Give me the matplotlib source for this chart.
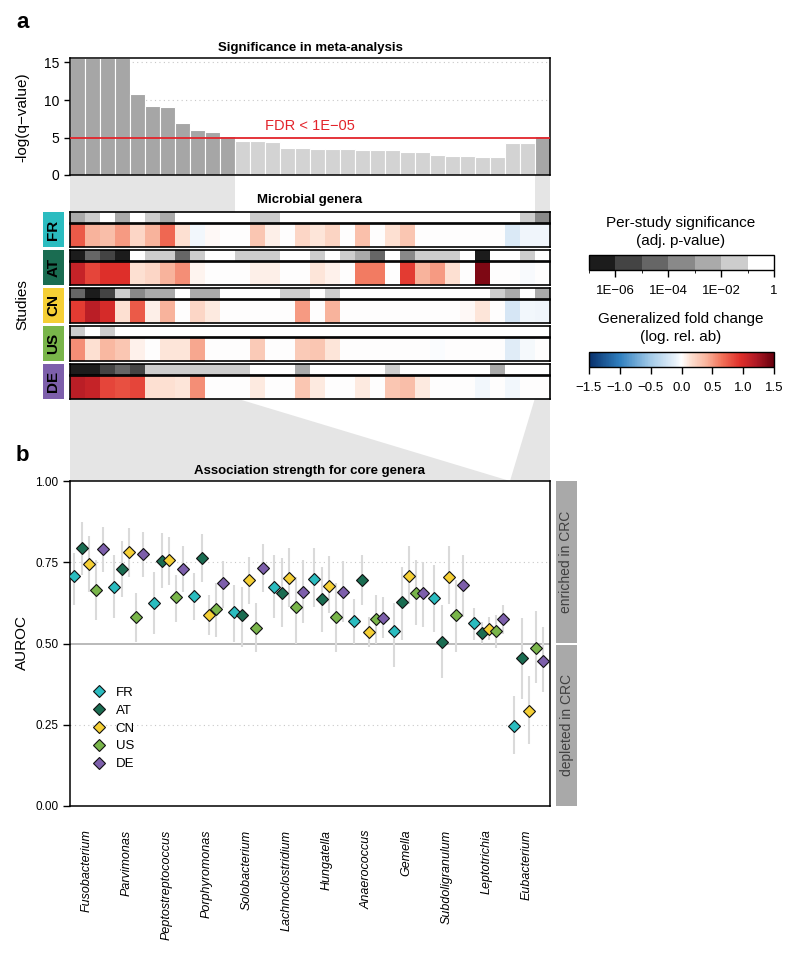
import matplotlib
matplotlib.use("Agg")
import matplotlib.pyplot as plt
import numpy as np
from matplotlib.colors import ListedColormap, BoundaryNorm, LinearSegmentedColormap, Normalize
from matplotlib.cm import ScalarMappable
from matplotlib.lines import Line2D
from matplotlib.patches import Polygon, Rectangle

plt.rcParams["font.family"] = ["Liberation Sans", "DejaVu Sans"]

W, H = 800, 957

# ---- data ----
# -log(q-value) of the meta-analysis, 32 genera
META_Q = [15.6, 15.6, 15.6, 15.6, 10.8, 9.15, 9.0, 7.0, 5.95, 5.7, 5.2,
          4.55, 4.55, 4.42, 3.55, 3.55, 3.52, 3.52, 3.52, 3.38, 3.38, 3.32,
          3.05, 3.05, 2.63, 2.5, 2.5, 2.37, 2.37, 4.28, 4.28, 5.25]
FDR_CUT = 5

STUDIES = ["FR", "AT", "CN", "US", "DE"]
STUDY_COLORS = ["#2bbcc0", "#1a6c51", "#f5cf35", "#79b54a", "#7d5fab"]

# per-study adj. p-value (log10)
SIG_FR = [-2.5, -1.5, -0.5, -2.5, -0.5, -1.5, -2.5, -0.5, -0.5, -0.5, -0.5, -0.5, -1.5, -1.5, -0.5, -0.5,
          -0.5, -0.5, -0.5, -0.5, -0.5, -0.5, -0.5, -0.5, -0.5, -0.5, -0.5, -0.5, -0.5, -0.5, -1.5, -3.5]
SIG_AT = [-6.5, -4.5, -5.5, -6.5, -0.5, -1.5, -1.5, -4.5, -1.5, -0.5, -0.5, -1.5, -1.5, -1.5, -0.5, -0.5,
          -1.5, -0.5, -1.5, -2.5, -4.5, -0.5, -3.5, -1.5, -1.5, -1.5, -0.5, -6.5, -0.5, -0.5, -1.5, -0.5]
SIG_CN = [-4.5, -6.5, -5.5, -1.5, -3.5, -2.5, -2.5, -0.5, -2.5, -2.5, -0.5, -0.5, -0.5, -0.5, -1.5, -1.5,
          -0.5, -1.5, -0.5, -0.5, -0.5, -0.5, -0.5, -0.5, -0.5, -0.5, -0.5, -0.5, -1.5, -2.5, -0.5, -2.5]
SIG_US = [-1.5, -0.5, -1.5, -0.5, -0.5, -0.5, -0.5, -0.5, -0.5, -0.5, -0.5, -0.5, -0.5, -0.5, -0.5, -0.5,
          -0.5, -0.5, -0.5, -0.5, -0.5, -0.5, -0.5, -0.5, -0.5, -0.5, -0.5, -0.5, -0.5, -0.5, -0.5, -0.5]
SIG_DE = [-6.5, -6.5, -5.5, -4.5, -5.5, -1.5, -1.5, -1.5, -1.5, -1.5, -1.5, -1.5, -0.5, -0.5, -0.5, -2.5,
          -0.5, -0.5, -0.5, -0.5, -0.5, -1.5, -0.5, -0.5, -0.5, -0.5, -0.5, -0.5, -2.5, -0.5, -0.5, -0.5]

# generalized fold change
FC_FR = [0.75, 0.4, 0.35, 0.5, 0.2, 0.4, 0.7, 0.15, -0.05, 0.03, 0, 0, 0.3, 0.08, 0, 0.2,
         0.12, 0.22, 0, 0.33, 0, 0.15, 0.3, 0, 0, 0, 0, 0, 0, -0.18, -0.07, -0.06]
FC_AT = [1.1, 0.85, 0.95, 0.95, 0.15, 0.2, 0.4, 0.55, 0.05, 0, 0, 0, 0.08, 0.08, 0, 0,
         0.12, 0.06, 0, 0.62, 0.62, 0, 0.9, 0.4, 0.5, 0.15, 0, 1.4, 0, 0, -0.03, 0]
FC_CN = [0.9, 1.15, 1.0, 0.15, 0.75, 0.08, 0.4, 0, 0.2, 0.1, 0, 0, 0, 0, 0, 0.5,
         0, 0.4, 0, 0, 0, 0, 0, 0, 0, 0, 0.03, 0.12, 0, -0.2, -0.05, -0.07]
FC_US = [0.55, 0.15, 0.38, 0.3, 0.06, 0, 0.12, 0.12, 0.45, 0, 0, 0, 0.27, 0, 0, 0.27,
         0.3, 0.12, 0, 0, 0, 0, 0, 0, -0.02, 0, 0, 0, 0, -0.15, -0.04, 0]
FC_DE = [1.15, 1.1, 0.85, 0.8, 0.85, 0.15, 0.15, 0.12, 0.55, 0, 0, 0, 0.1, 0, 0, 0.3,
         0.1, 0, 0, 0.1, 0, 0.3, 0.35, 0.1, 0, 0, 0, -0.05, 0, -0.05, 0, 0]

SIG = [SIG_FR, SIG_AT, SIG_CN, SIG_US, SIG_DE]
FC = [FC_FR, FC_AT, FC_CN, FC_US, FC_DE]

# core genera (columns of the heatmap kept in panel b)
CORE_IDX = [0, 1, 2, 3, 4, 5, 6, 7, 8, 9, 10, 31]
CORE_GENERA = ["Fusobacterium", "Parvimonas", "Peptostreptococcus", "Porphyromonas",
               "Solobacterium", "Lachnoclostridium", "Hungatella", "Anaerococcus",
               "Gemella", "Subdoligranulum", "Leptotrichia", "Eubacterium"]

AUROC_FR = [0.708, 0.674, 0.626, 0.645, 0.596, 0.675, 0.700, 0.568, 0.540, 0.640, 0.562, 0.245]
AUROC_AT = [0.793, 0.730, 0.755, 0.763, 0.588, 0.655, 0.636, 0.694, 0.629, 0.505, 0.533, 0.456]
AUROC_CN = [0.746, 0.783, 0.756, 0.589, 0.695, 0.703, 0.677, 0.535, 0.708, 0.706, 0.546, 0.293]
AUROC_US = [0.665, 0.582, 0.642, 0.605, 0.547, 0.612, 0.582, 0.574, 0.656, 0.587, 0.538, 0.486]
AUROC_DE = [0.790, 0.774, 0.730, 0.686, 0.732, 0.660, 0.657, 0.580, 0.656, 0.679, 0.574, 0.446]

CI_LO_FR = [0.62, 0.578, 0.53, 0.572, 0.505, 0.577, 0.613, 0.50, 0.428, 0.536, 0.51, 0.16]
CI_LO_AT = [0.711, 0.644, 0.67, 0.69, 0.49, 0.552, 0.536, 0.618, 0.51, 0.393, 0.50, 0.33]
CI_LO_CN = [0.66, 0.706, 0.68, 0.526, 0.623, 0.613, 0.593, 0.49, 0.623, 0.623, 0.51, 0.19]
CI_LO_US = [0.572, 0.505, 0.567, 0.521, 0.475, 0.50, 0.475, 0.50, 0.557, 0.475, 0.485, 0.38]
CI_LO_DE = [0.72, 0.704, 0.66, 0.608, 0.66, 0.562, 0.567, 0.517, 0.552, 0.582, 0.53, 0.35]

CI_HI_FR = [0.78, 0.772, 0.72, 0.717, 0.68, 0.772, 0.794, 0.636, 0.625, 0.742, 0.608, 0.34]
CI_HI_AT = [0.874, 0.816, 0.84, 0.837, 0.675, 0.762, 0.736, 0.772, 0.736, 0.618, 0.567, 0.58]
CI_HI_CN = [0.83, 0.855, 0.829, 0.65, 0.767, 0.793, 0.769, 0.582, 0.80, 0.80, 0.582, 0.40]
CI_HI_US = [0.757, 0.656, 0.71, 0.686, 0.625, 0.706, 0.685, 0.65, 0.757, 0.695, 0.588, 0.60]
CI_HI_DE = [0.858, 0.843, 0.80, 0.754, 0.806, 0.757, 0.755, 0.644, 0.752, 0.772, 0.618, 0.55]

AUROC = [AUROC_FR, AUROC_AT, AUROC_CN, AUROC_US, AUROC_DE]
CI_LO = [CI_LO_FR, CI_LO_AT, CI_LO_CN, CI_LO_US, CI_LO_DE]
CI_HI = [CI_HI_FR, CI_HI_AT, CI_HI_CN, CI_HI_US, CI_HI_DE]

SIG_COLORS = ["#1c1c1c", "#444444", "#666666", "#898989", "#aaaaaa", "#cdcdcd", "#ffffff"]
SIG_TICKS = [-6, -4, -2, 0]
SIG_TICKLABELS = ["1E\u221206", "1E\u221204", "1E\u221202", "1"]
FC_TICKS = [-1.5, -1.0, -0.5, 0.0, 0.5, 1.0, 1.5]


def box(x0, y0, x1, y1):
    """pixel box (top-left origin) -> figure fraction rect"""
    return [x0 / W, 1 - y1 / H, (x1 - x0) / W, (y1 - y0) / H]


fig = plt.figure(figsize=(W / 100, H / 100), dpi=100)

# background layer for connectors, labels and strips
bg = fig.add_axes([0, 0, 1, 1], zorder=-1)
bg.set_xlim(0, W)
bg.set_ylim(H, 0)
bg.axis("off")

X0, X1 = 70, 550
n_gen = len(META_Q)
col_w = (X1 - X0) / n_gen
n_core = len(CORE_IDX)
core_w = (X1 - X0) / n_core

# ---- a: meta-analysis bars ----
ax = fig.add_axes(box(X0, 58, X1, 175))
bar_cols = ["#a6a6a6" if q > FDR_CUT else "#d3d3d3" for q in META_Q]
ax.bar(np.arange(n_gen), META_Q, width=1.0, color=bar_cols, edgecolor="white", linewidth=0.8, zorder=2)
for yv in [10, 15]:
    ax.axhline(yv, color="#c8c8c8", lw=0.8, ls=(0, (1, 3)), zorder=1)
ax.axhline(FDR_CUT, color="#e3242b", lw=1.3, zorder=3)
ax.text(15.5, 6.55, "FDR < 1E\u221205", color="#e3242b", fontsize=10.5, ha="center", va="center")
ax.set_xlim(-0.5, n_gen - 0.5)
ax.set_ylim(0, 15.6)
ax.set_xticks([])
ax.set_yticks([0, 5, 10, 15])
ax.tick_params(axis="y", length=4, labelsize=10, width=1)
for sp in ax.spines.values():
    sp.set_linewidth(1.1)
ax.set_title("Significance in meta-analysis", fontsize=9.5, fontweight="bold", pad=5)
fig.text(22 / W, 1 - 117 / H, "-log(q\u2212value)", rotation=90, ha="center", va="center", fontsize=11)

# connectors (selected genera)
groups = [[0, 10], [31, 31]]
core_starts = [0, 11]
for (g0, g1), c0 in zip(groups, core_starts):
    xa = X0 + col_w * g0
    xb = X0 + col_w * (g1 + 1)
    bg.add_patch(Rectangle((xa, 175), xb - xa, 212 - 175, color="#e5e5e5", lw=0))
    xc = X0 + core_w * c0
    xd = X0 + core_w * (c0 + g1 - g0 + 1)
    bg.add_patch(Polygon([(xa, 398), (xb, 398), (xd, 481), (xc, 481)], closed=True, color="#e5e5e5", lw=0))

fig.text(310 / W, 1 - 200 / H, "Microbial genera", ha="center", va="center", fontsize=9.5, fontweight="bold")

# ---- a: per-study heatmap ----
sig_cmap = ListedColormap(SIG_COLORS)
sig_norm = BoundaryNorm(np.arange(-7, 1), sig_cmap.N)
fc_cmap = LinearSegmentedColormap.from_list(
    "fc",
    [(0.0, "#08306b"), (0.5 / 3, "#3080c0"), (1.0 / 3, "#a4cbe8"), (1.4 / 3, "#e8f1fa"),
     (0.5, "#ffffff"), (1.65 / 3, "#fde0d2"), (1.9 / 3, "#f9b59e"), (2.15 / 3, "#f2735a"),
     (2.45 / 3, "#e0302b"), (2.7 / 3, "#b31b26"), (1.0, "#67000d")])
fc_norm = Normalize(-1.5, 1.5)

for k, st in enumerate(STUDIES):
    top = 212 + 38 * k
    a_sig = fig.add_axes(box(X0, top, X1, top + 11))
    a_sig.imshow(np.array(SIG[k])[None, :], cmap=sig_cmap, norm=sig_norm, aspect="auto",
                 interpolation="nearest", extent=(-0.5, n_gen - 0.5, 0, 1))
    a_fc = fig.add_axes(box(X0, top + 12, X1, top + 35))
    a_fc.imshow(np.array(FC[k])[None, :], cmap=fc_cmap, norm=fc_norm, aspect="auto",
                interpolation="nearest", extent=(-0.5, n_gen - 0.5, 0, 1))
    for a in (a_sig, a_fc):
        a.set_xticks([])
        a.set_yticks([])
        for sp in a.spines.values():
            sp.set_linewidth(1.2)
    bg.add_patch(Rectangle((43, top), 21, 35, color=STUDY_COLORS[k], lw=0))
    bg.text(53.5, top + 17.5, st, rotation=90, ha="center", va="center", fontsize=11, fontweight="bold")

fig.text(22 / W, 1 - 305 / H, "Studies", rotation=90, ha="center", va="center", fontsize=11)

# ---- legends (colorbars) ----
fig.text(681 / W, 1 - 232 / H, "Per-study significance\n(adj. p-value)", ha="center", va="center",
         fontsize=11, linespacing=1.3)
cax1 = fig.add_axes(box(589, 255, 774, 270))
cb1 = fig.colorbar(ScalarMappable(norm=sig_norm, cmap=sig_cmap), cax=cax1, orientation="horizontal")
cb1.set_ticks(SIG_TICKS)
cb1.set_ticklabels(SIG_TICKLABELS)
cb1.outline.set_linewidth(1)
cax1.tick_params(length=5, width=1, labelsize=9.5, pad=6)

fig.text(681 / W, 1 - 328 / H, "Generalized fold change\n(log. rel. ab)", ha="center", va="center",
         fontsize=11, linespacing=1.3)
cax2 = fig.add_axes(box(589, 352, 774, 367))
cb2 = fig.colorbar(ScalarMappable(norm=fc_norm, cmap=fc_cmap), cax=cax2, orientation="horizontal")
cb2.set_ticks(FC_TICKS)
cb2.set_ticklabels([f"{t:.1f}".replace("-", "\u2212") for t in FC_TICKS])
cb2.outline.set_linewidth(1)
cax2.tick_params(length=5, width=1, labelsize=9.5, pad=6)

# ---- b: AUROC per core genus ----
axb = fig.add_axes(box(X0, 481, X1, 806))
offsets = [-0.4, -0.21, -0.03, 0.15, 0.33]
xs = np.arange(n_core)
for yv in [0.25, 0.75]:
    axb.axhline(yv, color="#c8c8c8", lw=0.8, ls=(0, (1, 3)), zorder=0)
axb.axhline(0.5, color="#b4b4b4", lw=1.3, zorder=0)
for k in range(len(STUDIES)):
    axb.vlines(xs + offsets[k], CI_LO[k], CI_HI[k], color="#dadada", lw=1.5, zorder=1)
for k, st in enumerate(STUDIES):
    axb.plot(xs + offsets[k], AUROC[k], ls="none", marker="D", ms=6.5, mfc=STUDY_COLORS[k],
             mec="#111111", mew=0.8, zorder=3, label=st)
axb.set_xlim(-0.5, n_core - 0.5)
axb.set_ylim(0, 1)
axb.set_yticks([0, 0.25, 0.5, 0.75, 1.0])
axb.set_yticklabels(["0.00", "0.25", "0.50", "0.75", "1.00"])
axb.tick_params(axis="y", length=5, width=1, labelsize=8.5)
axb.set_xticks(xs - 0.08)
axb.set_xticklabels(CORE_GENERA, rotation=90, fontsize=9, fontstyle="italic", va="top")
axb.tick_params(axis="x", length=0, pad=17)
for sp in axb.spines.values():
    sp.set_linewidth(1.1)
axb.set_title("Association strength for core genera", fontsize=9.5, fontweight="bold", pad=5)
fig.text(22 / W, 1 - 643 / H, "AUROC", rotation=90, ha="center", va="center", fontsize=11)

handles = [Line2D([], [], ls="none", marker="D", ms=6.5, mfc=c, mec="#111111", mew=0.8)
           for c in STUDY_COLORS]
axb.legend(handles, STUDIES, loc="upper left", bbox_to_anchor=(0.035, 0.383), frameon=False,
           fontsize=9.5, handlelength=1.0, handletextpad=0.8, labelspacing=0.42, borderaxespad=0)

# side strip
bg.add_patch(Rectangle((556, 481), 21, 162, color="#a9a9a9", lw=0))
bg.add_patch(Rectangle((556, 645), 21, 161, color="#a9a9a9", lw=0))
bg.text(566.5, 562, "enriched in CRC", rotation=90, ha="center", va="center", fontsize=10, color="#404040")
bg.text(566.5, 725.5, "depleted in CRC", rotation=90, ha="center", va="center", fontsize=10, color="#404040")

# panel letters
fig.text(16 / W, 1 - 22 / H, "a", fontsize=16, fontweight="bold", ha="left", va="center")
fig.text(16 / W, 1 - 455 / H, "b", fontsize=16, fontweight="bold", ha="left", va="center")

fig.savefig("out.png", dpi=100)
